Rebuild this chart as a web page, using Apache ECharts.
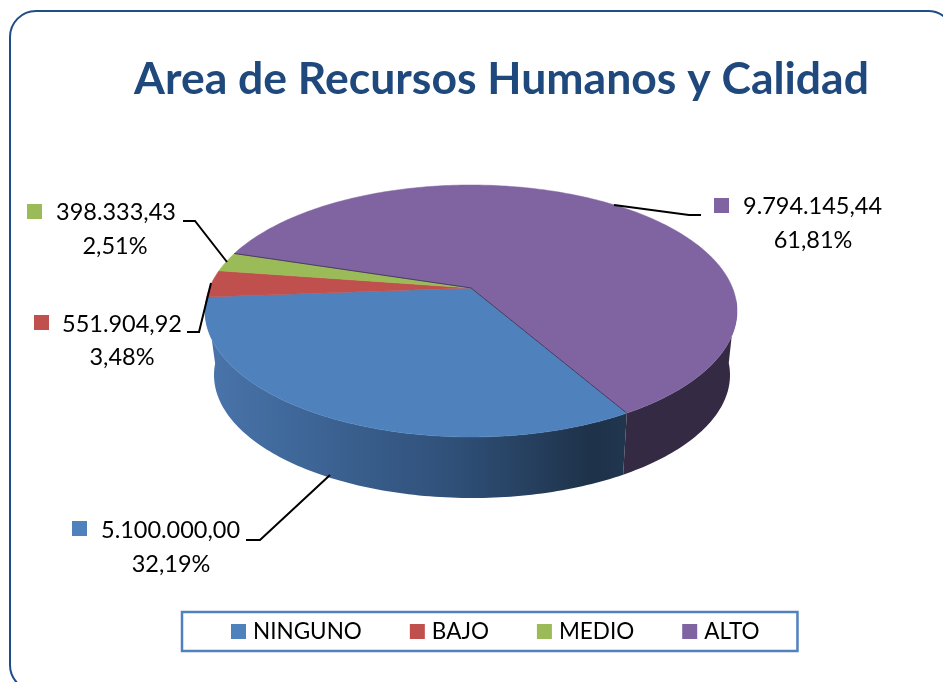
<!DOCTYPE html>
<html>
<head>
<meta charset="utf-8">
<style>html,body{margin:0;padding:0;background:#fff}#c{width:943px;height:682px}</style>
<script src="https://cdn.jsdelivr.net/npm/echarts@6/dist/echarts.min.js"></script>
</head>
<body>
<div id="c"></div>
<script>
const categories = ['NINGUNO', 'BAJO', 'MEDIO', 'ALTO'];
const values = [5100000.00, 551904.92, 398333.43, 9794145.44];
const titleText = 'Area de Recursos Humanos y Calidad';

const colors = ['#4F81BD', '#C0504D', '#9BBB59', '#8064A2'];
const FONT = 'Lato';
const total = values.reduce((a, b) => a + b, 0);
const startAngle = 59.9;
const top3d = { cx: 471, cy: 311, rx: 266, ry: 126 };
const bot3d = { cx: 472, cy: 375, rx: 258, ry: 123 };
const k = -0.183;           // perspective shift of the centre

function disk(deg) {
  const a = deg * Math.PI / 180, u = Math.cos(a), v = Math.sin(a), d = 1 + k * v;
  return [u * Math.sqrt(1 - k * k) / d, (v + k) / d];
}
const at = (e, p) => [e.cx + e.rx * p[0], e.cy + e.ry * p[1]];
const apex = at(top3d, [0, k]);

function fmtValue(v) {
  const [i, d] = v.toFixed(2).split('.');
  return i.replace(/\B(?=(\d{3})+$)/g, '.') + ',' + d;
}
const fmtPct = v => (v / total * 100).toFixed(2).replace('.', ',') + '%';

const labelLayout = [
  { key: [72, 521], tx: 101, ty: 530, cx: 171, py: 564, line: [[246, 540], [260, 540], [330, 475]] },
  { key: [34, 315], tx: 62, ty: 324, cx: 122, py: 357, line: [[187, 332], [199, 332], [211, 283]] },
  { key: [27, 204], tx: 56, ty: 212, cx: 115, py: 246, line: [[183, 221], [195, 221], [227, 262]] },
  { key: [714, 198], tx: 743, ty: 206, cx: 813, py: 240, line: [[614, 205], [689, 215], [701, 215]] }
];

function sideFill(i) {
  if (i === 0) {
    return new echarts.graphic.LinearGradient(206, 0, 626, 0, [
      { offset: 0, color: '#4A75AB' },
      { offset: 0.25, color: '#3D6596' },
      { offset: 0.6, color: '#2F4F77' },
      { offset: 0.92, color: '#1E3249' },
      { offset: 1, color: '#20364F' }
    ], true);
  }
  return '#352A44';
}

function makeRender(idx) {
  return function (params, api) {
    const v = api.value(0);
    const before = values.slice(0, idx).reduce((a, b) => a + b, 0);
    const a0 = startAngle + before / total * 360;
    const a1 = a0 + v / total * 360;
    const n = Math.max(2, Math.ceil(a1 - a0));
    const rimT = [], rimB = [], vis = [];
    for (let j = 0; j <= n; j++) {
      const p = disk(a0 + (a1 - a0) * j / n);
      rimT.push(at(top3d, p));
      if (p[1] > -0.1) { vis.push(at(top3d, p)); rimB.push(at(bot3d, p)); }
    }
    const children = [];
    if (vis.length >= 2) {
      children.push({
        type: 'polygon', shape: { points: vis.concat(rimB.slice().reverse()) },
        style: { fill: sideFill(idx), stroke: null }
      });
    }
    children.push({
      type: 'polygon', shape: { points: [apex].concat(rimT) },
      style: { fill: colors[idx], stroke: colors[idx], lineWidth: 0.5 }
    });
    if (idx === 3) {
      children.push({
        type: 'polyline', shape: { points: [rimT[0], apex, rimT[n]] },
        style: { stroke: '#3B3150', lineWidth: 1, fill: null, opacity: 0.85 }
      });
    }
    const L = labelLayout[idx];
    children.push({
      type: 'polyline', shape: { points: L.line },
      style: { stroke: '#000', lineWidth: 2, fill: null }
    });
    children.push({
      type: 'rect', shape: { x: L.key[0], y: L.key[1], width: 15, height: 15 },
      style: { fill: colors[idx] }
    });
    children.push({
      type: 'text',
      style: { x: L.tx, y: L.ty, text: fmtValue(v), fill: '#000', align: 'left', verticalAlign: 'middle',
        fontFamily: FONT, fontSize: 23.5 }
    });
    children.push({
      type: 'text',
      style: { x: L.cx, y: L.py, text: fmtPct(v), fill: '#000', align: 'center', verticalAlign: 'middle',
        fontFamily: FONT, fontSize: 23.5 }
    });
    return { type: 'group', children };
  };
}

const chart = echarts.init(document.getElementById('c'), null, { renderer: 'canvas' });
chart.setOption({
  animation: false,
  backgroundColor: '#fff',
  title: {
    text: titleText, left: 496.5, top: 52, textAlign: 'center',
    textStyle: { color: '#1F497D', fontFamily: FONT, fontWeight: 'bold', fontSize: 44.5 }
  },
  legend: {
    data: categories, left: 182, top: 612, orient: 'horizontal',
    padding: [8, 38, 8, 49], itemGap: 48, itemWidth: 15, itemHeight: 15, icon: 'rect',
    borderColor: '#4F81BD', borderWidth: 2.5, backgroundColor: '#fff',
    textStyle: { fontFamily: FONT, fontSize: 22.5, color: '#000', padding: [0, 0, 0, 2] }
  },
  graphic: [{
    type: 'rect', silent: true, z: -1,
    shape: { x: 10, y: 11, width: 944, height: 680, r: 26 },
    style: { fill: 'none', stroke: '#1F4E86', lineWidth: 2 }
  }],
  series: categories.map((name, i) => ({
    type: 'custom', name, coordinateSystem: 'none', silent: true,
    itemStyle: { color: colors[i] },
    renderItem: makeRender(i),
    data: [values[i]],
    z: 2 + i
  }))
});
</script>
</body>
</html>
